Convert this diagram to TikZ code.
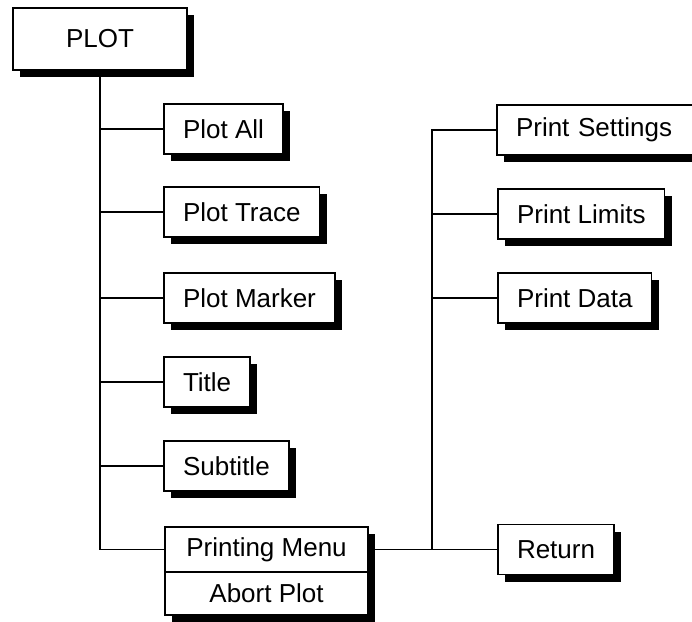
\documentclass[tikz,border=0pt]{standalone}
\usepackage{fontspec}
\setmainfont{Liberation Sans}
\usetikzlibrary{positioning,shadows}

\begin{document}
\begin{tikzpicture}[x=1pt,y=-1pt,line width=1.6pt,
  menubox/.style={draw=black,fill=white,minimum height=50pt,inner xsep=19pt,outer sep=0pt,
    font=\fontsize{26}{30}\selectfont,anchor=west,
    drop shadow={shadow xshift=7pt,shadow yshift=-7pt,opacity=1,fill=black}}]
\clip (0,0) rectangle (692,621);
\useasboundingbox (0,0) rectangle (692,621);
\node[menubox,minimum width=174pt,minimum height=62pt,anchor=center] (plot) at (100,39) {PLOT};
\node[menubox] (all) at (164,129) {Plot All};
\node[menubox] (trace) at (164,212) {Plot Trace};
\node[menubox] (marker) at (164,298) {Plot Marker};
\node[menubox] (title) at (164,382) {Title};
\node[menubox] (subtitle) at (164,466) {Subtitle};
\node[menubox,minimum width=203pt,minimum height=45pt,anchor=north west] (menu) at (165,527) {Printing Menu};
\node[menubox,minimum width=203pt,minimum height=43pt,anchor=north] (abort) at (menu.south) {Abort Plot};
\coordinate (hub) at ([xshift=64pt]menu.east);
\node[menubox,minimum width=206pt,text width=168pt] (settings) at (497,130) {Print Settings};
\node[menubox] (limits) at (498,214) {Print Limits};
\node[menubox] (data) at (498,298) {Print Data};
\node[menubox,right=66pt of hub] (return) {Return};
\draw (plot.south) |- (all.west);
\draw (plot.south) |- (trace.west);
\draw (plot.south) |- (marker.west);
\draw (plot.south) |- (title.west);
\draw (plot.south) |- (subtitle.west);
\draw (plot.south) |- (menu.west);
\draw (menu.east) -- (hub) -- (return.west);
\draw (hub) |- (settings.west);
\draw (hub) |- (limits.west);
\draw (hub) |- (data.west);
\end{tikzpicture}
\end{document}
